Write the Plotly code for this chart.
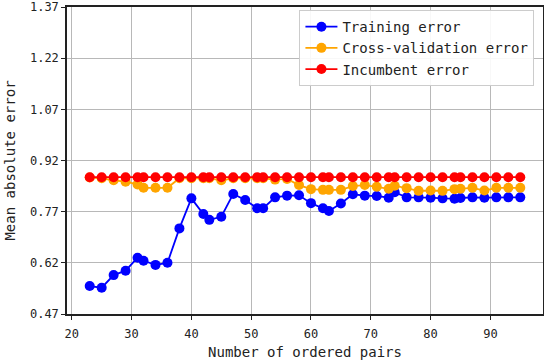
import plotly.graph_objects as go

pairs = [23, 25, 27, 29, 31, 32, 34, 36, 38, 40, 42, 43, 45, 47, 49, 51, 52, 54, 56, 58,
         60, 62, 63, 65, 67, 69, 71, 73, 74, 76, 78, 80, 82, 84, 85, 87, 89, 91, 93, 95]

training_error = [0.552, 0.547, 0.584, 0.597, 0.635, 0.626, 0.614, 0.620, 0.721, 0.809,
                  0.763, 0.746, 0.755, 0.822, 0.804, 0.780, 0.780, 0.812, 0.817, 0.818,
                  0.795, 0.780, 0.772, 0.794, 0.821, 0.817, 0.816, 0.811, 0.827, 0.812,
                  0.812, 0.811, 0.809, 0.808, 0.810, 0.812, 0.811, 0.812, 0.812, 0.812]

cv_error = [0.870, 0.868, 0.862, 0.858, 0.850, 0.840, 0.840, 0.840, 0.868, 0.868,
            0.868, 0.868, 0.862, 0.868, 0.868, 0.868, 0.868, 0.864, 0.866, 0.848,
            0.836, 0.834, 0.834, 0.834, 0.845, 0.848, 0.843, 0.837, 0.846, 0.839,
            0.831, 0.832, 0.831, 0.836, 0.837, 0.840, 0.832, 0.840, 0.840, 0.840]

incumbent_error = [0.871] * 40

y_ticks = [0.47, 0.62, 0.77, 0.92, 1.07, 1.22, 1.37]
x_ticks = [20, 30, 40, 50, 60, 70, 80, 90]

FONT = "DejaVu Sans Mono"

fig = go.Figure()
series = [
    ("Training error", training_error, "#0000ff"),
    ("Cross-validation error", cv_error, "#ffa500"),
    ("Incumbent error", incumbent_error, "#ff0000"),
]
for name, vals, col in series:
    fig.add_trace(go.Scatter(
        x=pairs, y=vals, name=name, mode="lines+markers",
        line=dict(color=col, width=1.8),
        marker=dict(color=col, size=10, symbol="circle"),
    ))

axis_common = dict(
    showgrid=True, gridcolor="#b8b8b8", gridwidth=1,
    showline=True, linecolor="#222222", linewidth=1.5, mirror=True,
    ticks="outside", ticklen=4, tickcolor="#222222", tickwidth=1,
    zeroline=False,
    tickfont=dict(family=FONT, size=12, color="#222222"),
)

fig.update_xaxes(
    range=[19.2, 98.8], tickvals=x_ticks, ticktext=[str(v) for v in x_ticks],
    ticklabelstandoff=4,
    title=dict(text="Number of ordered pairs", font=dict(family=FONT, size=14, color="#222222"), standoff=9),
    **axis_common,
)
fig.update_yaxes(
    range=[0.47, 1.37], tickvals=y_ticks, ticktext=[f"{v:.2f}" for v in y_ticks],
    title=dict(text="Mean absolute error", font=dict(family=FONT, size=14, color="#222222"), standoff=11),
    **axis_common,
)

fig.update_layout(
    width=544, height=360,
    margin=dict(l=67, r=1, t=7, b=46, autoexpand=False),
    paper_bgcolor="white", plot_bgcolor="white",
    font=dict(family=FONT, size=14, color="#222222"),
    legend=dict(
        x=0.982, y=0.99, xanchor="right", yanchor="top",
        bgcolor="rgba(255,255,255,0.9)", bordercolor="#cccccc", borderwidth=1,
        font=dict(family=FONT, size=14, color="#222222"),
        itemwidth=32, tracegroupgap=0,
    ),
    showlegend=True,
)

fig.write_html(
    "out.html",
    config={"displayModeBar": False},
    post_script="document.body.style.margin='0';document.body.style.overflow='hidden';",
)
